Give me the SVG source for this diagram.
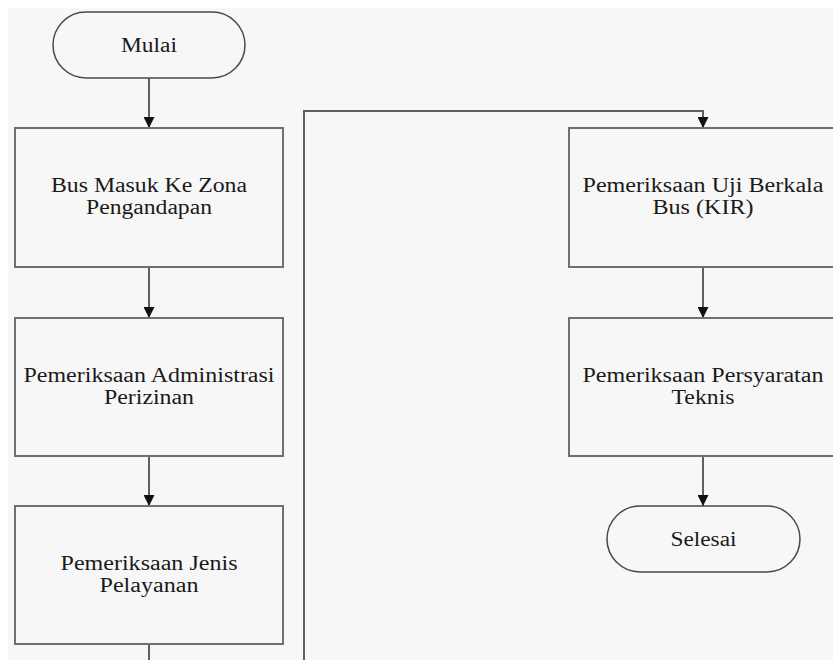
<svg xmlns="http://www.w3.org/2000/svg" width="833" height="660" viewBox="0 0 833 660">
  <defs>
    <marker id="arr" viewBox="0 0 10 10" refX="10" refY="5" markerWidth="11" markerHeight="11" markerUnits="userSpaceOnUse" orient="auto">
      <path d="M0,0 L10,5 L0,10 Z" fill="#111"/>
    </marker>
    <style>
      .box { fill: #f7f7f7; stroke: #707070; stroke-width: 2; }
      .term { fill: #f7f7f7; stroke: #4a4a4a; stroke-width: 1.5; }
      .conn { fill: none; stroke: #606060; stroke-width: 2; }
      text { font-family: "Liberation Serif", "Times New Roman", serif; font-size: 20px; fill: #1a1a1a; text-anchor: middle; }
    </style>
  </defs>
  <rect x="0" y="0" width="833" height="660" fill="#ffffff"/>
  <rect x="8" y="8" width="825" height="652" fill="#f7f7f7"/>

  <g id="connectors">
    <path class="conn" d="M149 78 V128" marker-end="url(#arr)"/>
    <path class="conn" d="M149 267 V318" marker-end="url(#arr)"/>
    <path class="conn" d="M149 456 V506" marker-end="url(#arr)"/>
    <path class="conn" d="M149 644 V675 H304 V111 H703 V128" marker-end="url(#arr)"/>
    <path class="conn" d="M703 267 V318" marker-end="url(#arr)"/>
    <path class="conn" d="M703 456 V506" marker-end="url(#arr)"/>
  </g>

  <g id="mulai">
    <rect class="term" x="53" y="12" width="192" height="66" rx="33" ry="33"/>
    <text x="149" y="52" textLength="56" lengthAdjust="spacingAndGlyphs">Mulai</text>
  </g>

  <g id="bus-masuk">
    <rect class="box" x="15" y="128" width="268" height="139"/>
    <text x="149" y="192" textLength="196" lengthAdjust="spacingAndGlyphs">Bus Masuk Ke Zona</text>
    <text x="149" y="214" textLength="126" lengthAdjust="spacingAndGlyphs">Pengandapan</text>
  </g>

  <g id="administrasi">
    <rect class="box" x="15" y="318" width="268" height="138"/>
    <text x="149" y="382" textLength="251" lengthAdjust="spacingAndGlyphs">Pemeriksaan Administrasi</text>
    <text x="149" y="404" textLength="90" lengthAdjust="spacingAndGlyphs">Perizinan</text>
  </g>

  <g id="jenis-pelayanan">
    <rect class="box" x="15" y="506" width="268" height="138"/>
    <text x="149" y="570" textLength="177" lengthAdjust="spacingAndGlyphs">Pemeriksaan Jenis</text>
    <text x="149" y="592" textLength="99" lengthAdjust="spacingAndGlyphs">Pelayanan</text>
  </g>

  <g id="uji-berkala">
    <rect class="box" x="569" y="128" width="268" height="139"/>
    <text x="703" y="192" textLength="241" lengthAdjust="spacingAndGlyphs">Pemeriksaan Uji Berkala</text>
    <text x="703" y="214" textLength="101" lengthAdjust="spacingAndGlyphs">Bus (KIR)</text>
  </g>

  <g id="persyaratan-teknis">
    <rect class="box" x="569" y="318" width="268" height="138"/>
    <text x="703" y="382" textLength="241" lengthAdjust="spacingAndGlyphs">Pemeriksaan Persyaratan</text>
    <text x="703" y="404" textLength="63" lengthAdjust="spacingAndGlyphs">Teknis</text>
  </g>

  <g id="selesai">
    <rect class="term" x="607" y="506" width="193" height="66" rx="33" ry="33"/>
    <text x="703.5" y="546" textLength="66" lengthAdjust="spacingAndGlyphs">Selesai</text>
  </g>
</svg>
